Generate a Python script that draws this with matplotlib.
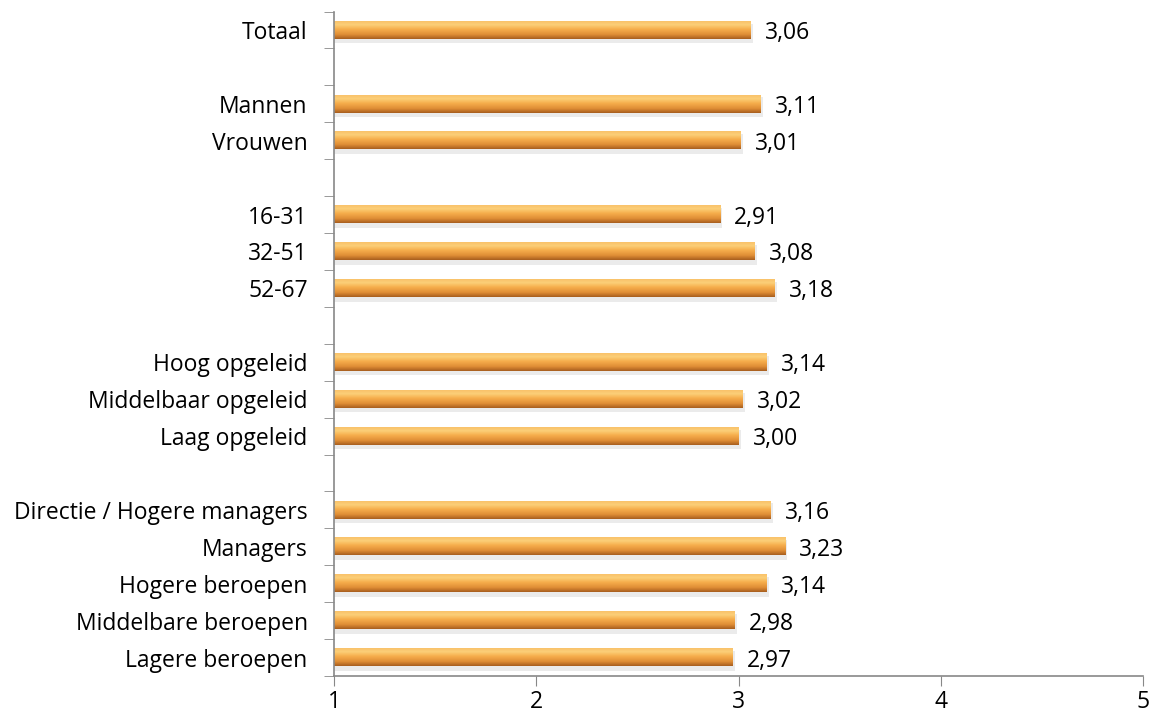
import matplotlib.pyplot as plt
import numpy as np
from matplotlib.colors import LinearSegmentedColormap

plt.rcParams['font.family'] = ['Open Sans', 'DejaVu Sans']

# categorieen (lege strings = witregels tussen groepen)
labels = ["Totaal", "", "Mannen", "Vrouwen", "", "16-31", "32-51", "52-67", "",
          "Hoog opgeleid", "Middelbaar opgeleid", "Laag opgeleid", "",
          "Directie / Hogere managers", "Managers", "Hogere beroepen",
          "Middelbare beroepen", "Lagere beroepen"]
values = [3.06, None, 3.11, 3.01, None, 2.91, 3.08, 3.18, None,
          3.14, 3.02, 3.00, None, 3.16, 3.23, 3.14, 2.98, 2.97]
xticks = [1, 2, 3, 4, 5]

fig = plt.figure(figsize=(11.56, 7.22), dpi=100)
ax = fig.add_axes([0.289, 0.0637, 0.6998, 0.9203])

# verloop voor het 3D-effect van de balken
cmap = LinearSegmentedColormap.from_list("bar", [
    (0.0, "#F9C26A"), (0.2, "#FCCF78"), (0.45, "#F6AE4C"),
    (0.75, "#E08E36"), (1.0, "#A85E1E")])
grad = np.linspace(0, 1, 64).reshape(-1, 1)

h = 0.47
for i, v in enumerate(values):
    if v is None:
        continue
    # schaduw
    ax.fill_between([1, v + 0.01], i - h / 2 + 0.06, i + h / 2 + 0.12,
                    color="#d8d8d8", alpha=0.5, lw=0, zorder=1)
    ax.imshow(grad, cmap=cmap, aspect="auto", extent=(1, v, i + h / 2, i - h / 2),
              interpolation="bilinear", zorder=2)
    ax.annotate(f"{v:.2f}".replace(".", ","), (v, i), xytext=(10, 0),
                textcoords="offset points", va="center_baseline", ha="left",
                fontsize=16.5)

ax.set_xlim(1, 5)
ax.set_ylim(len(labels) - 0.5, -0.5)
ax.set_xticks(xticks)
ax.set_xticklabels([str(t) for t in xticks], fontsize=16.5)
ax.set_yticks(np.arange(len(labels)))
ax.set_yticklabels(labels, fontsize=16.5)
ax.tick_params(axis="y", length=0, pad=19)
ax.set_yticks(np.arange(len(labels) + 1) - 0.5, minor=True)
ax.tick_params(axis="y", which="minor", length=7, color="#888888")
ax.tick_params(axis="x", length=7, color="#888888", pad=3)

for s in ["top", "right"]:
    ax.spines[s].set_visible(False)
for s in ["left", "bottom"]:
    ax.spines[s].set_color("#888888")
    ax.spines[s].set_linewidth(1.2)

fig.savefig("out.png", dpi=100)
